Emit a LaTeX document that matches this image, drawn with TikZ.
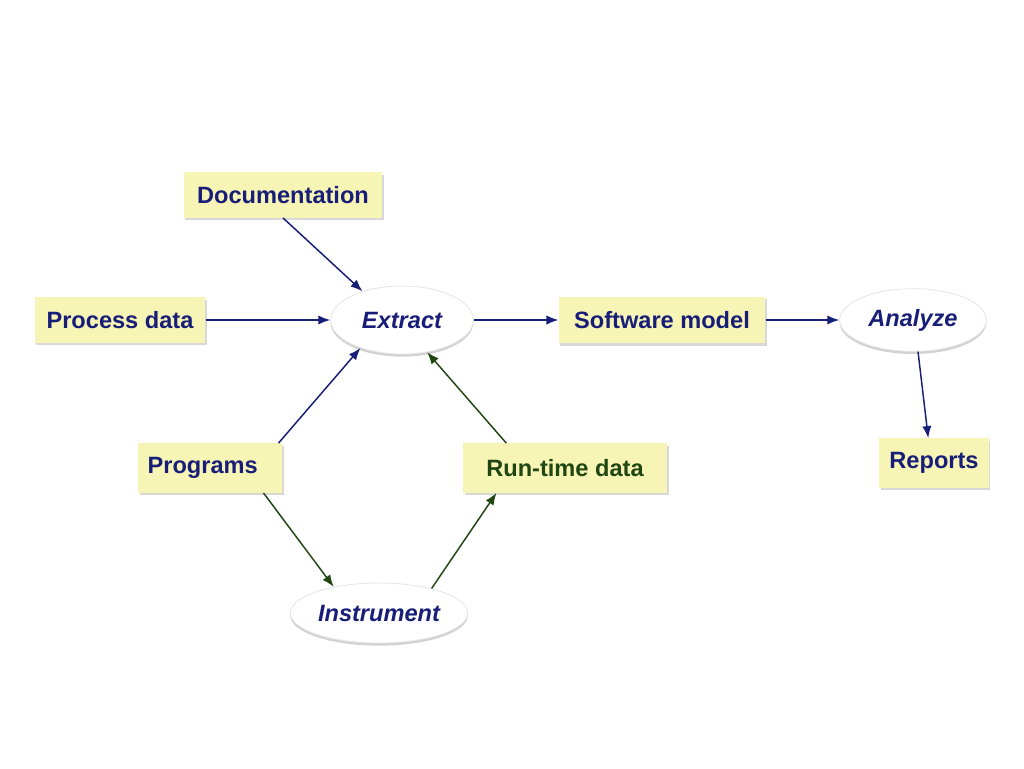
\documentclass[tikz,border=0pt]{standalone}
\usepackage{fontspec}
\setmainfont{Liberation Sans}
\usetikzlibrary{shapes.geometric,shadows,arrows.meta}
\definecolor{navy}{RGB}{24,30,120}
\definecolor{leaf}{RGB}{32,70,18}
\definecolor{pad}{RGB}{247,245,182}
\tikzset{
  label font/.style={font=\fontsize{17.7}{20}\selectfont\bfseries},
  box/.style={label font,fill=pad,inner sep=0pt,text=navy,
    drop shadow={shadow xshift=1.2pt,shadow yshift=-1.8pt,opacity=.3}},
  oval/.style={label font,ellipse,fill=white,draw=black!10,line width=.6pt,
    inner sep=0pt,text=navy,
    font=\fontsize{17.7}{20}\selectfont\bfseries\itshape,
    drop shadow={shadow xshift=0pt,shadow yshift=-2pt,opacity=.35}},
  flow/.style={navy,line width=1.1pt,-{Latex[length=9pt,width=7pt]}},
  runflow/.style={flow,leaf}
}
\begin{document}
\begin{tikzpicture}[x=0.75pt,y=-0.75pt]
  \fill[white] (0,0) rectangle (1024,768);
  \useasboundingbox (0,0) rectangle (1024,768);
  \node[box,minimum width=149pt,minimum height=34pt] (doc) at (283,195) {Documentation};
  \node[box,minimum width=128pt,minimum height=34pt] (proc) at (120,320) {Process data};
  \node[oval,minimum width=107pt,minimum height=51pt] (ext) at (402,320) {Extract};
  \node[box,minimum width=155pt,minimum height=35pt] (model) at (662,320) {Software model};
  \node[oval,minimum width=110pt,minimum height=47pt] (ana) at (913,320) {Analyze};
  \node[box,minimum width=108pt,minimum height=37pt] (prog) at (210,468) {Programs\hspace*{11pt}};
  \node[box,minimum width=153pt,minimum height=37pt,text=leaf] (run) at (565,468) {Run-time data};
  \node[oval,minimum width=133pt,minimum height=45pt] (inst) at (379,613) {Instrument};
  \node[box,minimum width=82pt,minimum height=37pt] (rep) at (934,463) {Reports};
  \draw[flow] (doc.south) -- (ext.144);
  \draw[flow] (proc) -- (ext);
  \draw[flow] (prog.20) -- (ext.214);
  \draw[runflow] (run.157) -- (ext.308);
  \draw[runflow] (prog.-25) -- (inst.150);
  \draw[runflow] (inst.25) -- (run.200);
  \draw[flow] (ext) -- (model);
  \draw[flow] (model) -- (ana);
  \draw[flow] (ana.-81) -- (rep.103);
\end{tikzpicture}
\end{document}
